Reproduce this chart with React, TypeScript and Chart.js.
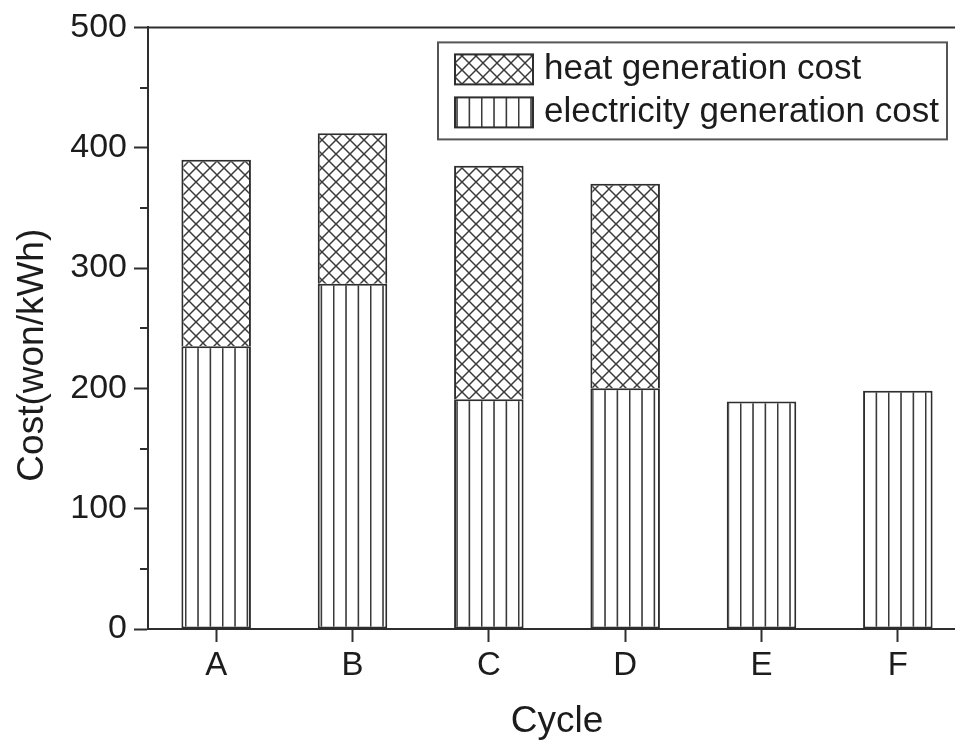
import React, { useEffect, useRef } from 'react';
import { Chart, registerables } from 'chart.js';

Chart.register(...registerables);

const categories = ['A', 'B', 'C', 'D', 'E', 'F'];
const electricityCost = [235, 287, 191, 200, 189, 198];
const heatCost = [155, 125, 194, 170, null, null];
const yMin = 0;
const yMax = 500;
const yStep = 100;
const yMinorStep = 50;
const legendLabels = ['heat generation cost', 'electricity generation cost'];
const xTitle = 'Cycle';
const yTitle = 'Cost(won/kWh)';

const FONT = '"Liberation Sans", Arial, sans-serif';
const INK = '#1c1c1c';
const AXIS = '#2e2e2e';

function makeVerticalPattern(): CanvasPattern | string {
  const c = document.createElement('canvas');
  c.width = 37;
  c.height = 4;
  const g = c.getContext('2d');
  if (!g) return '#fff';
  g.fillStyle = '#fff';
  g.fillRect(0, 0, 37, 4);
  g.strokeStyle = '#3a3a3a';
  g.lineWidth = 1.6;
  [0.7, 13.03, 25.37].forEach((x) => {
    g.beginPath();
    g.moveTo(x, 0);
    g.lineTo(x, 4);
    g.stroke();
  });
  const p = g.createPattern(c, 'repeat');
  return p || '#fff';
}

function makeCrossPattern(): CanvasPattern | string {
  const s = 14;
  const c = document.createElement('canvas');
  c.width = s;
  c.height = s;
  const g = c.getContext('2d');
  if (!g) return '#fff';
  g.fillStyle = '#fff';
  g.fillRect(0, 0, s, s);
  g.strokeStyle = '#3a3a3a';
  g.lineWidth = 1.5;
  for (const dx of [-s, 0, s]) {
    g.beginPath();
    g.moveTo(dx - 2, -2);
    g.lineTo(dx + s + 2, s + 2);
    g.stroke();
    g.beginPath();
    g.moveTo(dx + s + 2, -2);
    g.lineTo(dx - 2, s + 2);
    g.stroke();
  }
  const p = g.createPattern(c, 'repeat');
  return p || '#fff';
}

export default function App() {
  const ref = useRef<HTMLCanvasElement | null>(null);

  useEffect(() => {
    const canvas = ref.current;
    if (!canvas) return;
    const vPat = makeVerticalPattern();
    const xPat = makeCrossPattern();

    const decorPlugin = {
      id: 'decor',
      afterDraw(chart: any) {
        const ctx = chart.ctx;
        const area = chart.chartArea;
        const y = chart.scales.y;
        ctx.save();
        // top frame line
        ctx.strokeStyle = AXIS;
        ctx.lineWidth = 2;
        ctx.beginPath();
        ctx.moveTo(area.left, area.top);
        ctx.lineTo(area.right, area.top);
        ctx.stroke();
        // minor ticks on y axis
        for (let v = yMin + yMinorStep; v < yMax; v += yStep) {
          const py = Math.round(y.getPixelForValue(v));
          ctx.beginPath();
          ctx.moveTo(area.left - 8, py);
          ctx.lineTo(area.left, py);
          ctx.stroke();
        }
        // y axis title
        ctx.save();
        ctx.translate(33, (area.top + area.bottom) / 2 + 27);
        ctx.rotate(-Math.PI / 2);
        ctx.fillStyle = INK;
        ctx.font = `37px ${FONT}`;
        ctx.textAlign = 'center';
        ctx.textBaseline = 'middle';
        ctx.fillText(yTitle, 0, 0);
        ctx.restore();
        // legend
        const bx = area.left + 290;
        const by = area.top + 15;
        const bw = 509;
        const bh = 97;
        ctx.strokeStyle = '#555';
        ctx.lineWidth = 2;
        ctx.strokeRect(bx, by, bw, bh);
        const swatches = [xPat, vPat];
        const rows = [by + 27, by + 70];
        legendLabels.forEach((label, i) => {
          const sx = bx + 17;
          const sy = rows[i] - 15;
          ctx.fillStyle = swatches[i] as any;
          ctx.fillRect(sx, sy, 78, 30);
          ctx.strokeStyle = AXIS;
          ctx.lineWidth = 2;
          ctx.strokeRect(sx, sy, 78, 30);
          ctx.fillStyle = INK;
          ctx.font = `35px ${FONT}`;
          ctx.textBaseline = 'middle';
          ctx.textAlign = 'left';
          ctx.fillText(label, bx + 106, rows[i]);
        });
        ctx.restore();
      },
    };

    const chart = new Chart(canvas, {
      type: 'bar',
      data: {
        labels: categories,
        datasets: [
          {
            label: legendLabels[1],
            data: electricityCost,
            backgroundColor: vPat as any,
            borderColor: AXIS,
            borderWidth: 2,
            borderSkipped: false,
            barPercentage: 0.51,
            categoryPercentage: 1,
          },
          {
            label: legendLabels[0],
            data: heatCost as any,
            backgroundColor: xPat as any,
            borderColor: AXIS,
            borderWidth: { top: 2, left: 2, right: 2, bottom: 0 },
            borderSkipped: false,
            barPercentage: 0.51,
            categoryPercentage: 1,
          },
        ],
      },
      options: {
        responsive: false,
        animation: false,
        layout: { padding: { top: 26, left: 0, right: 0, bottom: 0 } },
        plugins: {
          legend: { display: false },
          tooltip: { enabled: false },
        },
        scales: {
          x: {
            stacked: true,
            offset: true,
            grid: {
              offset: false,
              drawOnChartArea: false,
              tickLength: 13,
              tickWidth: 2,
              tickColor: AXIS,
            },
            border: { color: AXIS, width: 2 },
            ticks: {
              color: INK,
              font: { family: FONT, size: 33 },
              padding: 4,
              maxRotation: 0,
            },
            title: {
              display: true,
              text: xTitle,
              color: INK,
              font: { family: FONT, size: 37 },
              padding: { top: 0, bottom: 2 },
            },
            afterFit(scale: any) {
              scale.height = 117;
            },
          },
          y: {
            stacked: true,
            min: yMin,
            max: yMax,
            grid: {
              drawOnChartArea: false,
              tickLength: 14,
              tickWidth: 2,
              tickColor: AXIS,
            },
            border: { color: AXIS, width: 2 },
            ticks: {
              stepSize: yStep,
              color: INK,
              font: { family: FONT, size: 34 },
              padding: 7,
            },
            title: { display: false },
            afterFit(scale: any) {
              scale.width = 148;
            },
          },
        },
      },
      plugins: [decorPlugin],
    });

    return () => {
      chart.destroy();
    };
  }, []);

  return (
    <div
      style={{
        position: 'fixed',
        left: 0,
        top: 0,
        width: 955,
        height: 746,
        overflow: 'hidden',
        background: '#fff',
      }}
    >
      <canvas ref={ref} width={966} height={746} style={{ display: 'block' }} />
    </div>
  );
}
